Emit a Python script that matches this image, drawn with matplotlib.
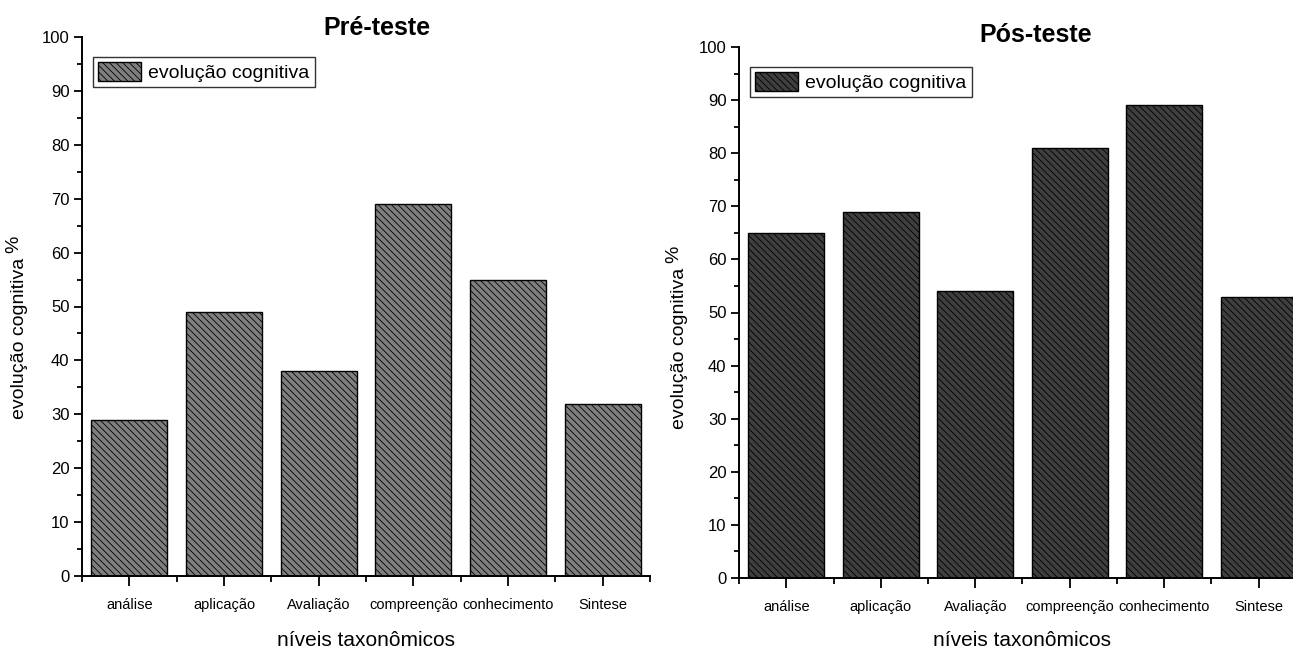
import numpy as np
import matplotlib.pyplot as plt
from matplotlib.ticker import MultipleLocator, FixedLocator

plt.rcParams['font.family'] = ['Liberation Sans', 'DejaVu Sans']
plt.rcParams['hatch.linewidth'] = 0.6

categorias = ['análise', 'aplicação', 'Avaliação', 'compreenção', 'conhecimento', 'Sintese']
pre_teste = [29, 49, 38, 69, 55, 32]
pos_teste = [65, 69, 54, 81, 89, 53]

W, H = 1293, 650
fig = plt.figure(figsize=(W / 100, H / 100), dpi=100)


def fx(px):
    return px / W


def fy(py):
    return 1 - py / H


def painel(x0, x1, y0, y1, valores, cor, titulo, titulo_xy, ylab_xy):
    ax = fig.add_axes([fx(x0), fy(y1), (x1 - x0) / W, (y1 - y0) / H])
    x = np.arange(len(categorias))
    ax.bar(x, valores, width=0.8, color=cor, edgecolor='black', linewidth=1.0,
           hatch='\\\\\\\\\\', label='evolução cognitiva')
    ax.set_xlim(-0.5, len(categorias) - 0.5)
    ax.set_ylim(0, 100)
    ax.set_xticks(x)
    ax.set_xticklabels(categorias)
    ax.xaxis.set_minor_locator(FixedLocator(np.arange(-0.5, len(categorias), 1.0)))
    ax.yaxis.set_major_locator(MultipleLocator(10))
    ax.yaxis.set_minor_locator(MultipleLocator(5))
    ax.tick_params(axis='y', which='major', direction='out', length=6, width=1.3, labelsize=12, pad=3)
    ax.tick_params(axis='y', which='minor', direction='out', length=3.5, width=1.3)
    ax.tick_params(axis='x', which='major', direction='out', length=7.5, width=1.3, labelsize=10.5, pad=8)
    ax.tick_params(axis='x', which='minor', direction='out', length=4, width=1.3)
    for lado in ['top', 'right']:
        ax.spines[lado].set_visible(False)
    for lado in ['left', 'bottom']:
        ax.spines[lado].set_linewidth(1.4)

    # legenda
    leg = ax.legend(loc='upper left', fontsize=14, frameon=True,
                    fancybox=False, edgecolor='black', handlelength=2.2, handleheight=1.15,
                    handletextpad=0.4, borderpad=0.25, borderaxespad=0.0,
                    bbox_to_anchor=(fx(x0 + 11), fy(y0 + 20)), bbox_transform=fig.transFigure)
    leg.get_frame().set_linewidth(1.0)

    fig.text(fx(titulo_xy[0]), fy(titulo_xy[1]), titulo, fontsize=18, fontweight='bold',
             ha='center', va='center')
    fig.text(fx((x0 + x1) / 2), fy(640), 'níveis taxonômicos', fontsize=15,
             ha='center', va='center')
    fig.text(fx(ylab_xy[0]), fy(ylab_xy[1]), 'evolução cognitiva', fontsize=14,
             rotation=90, ha='center', va='center')
    fig.text(fx(ylab_xy[0] - 6), fy(ylab_xy[1] - 94), '%', fontsize=14,
             rotation=90, ha='center', va='center')
    return ax


painel(82, 650, 37, 576, pre_teste, '#7f7f7f', 'Pré-teste', (377, 28), (20, 338))
painel(739, 1306, 47, 578, pos_teste, '#3f3f3f', 'Pós-teste', (1036, 35), (680, 348))

fig.savefig('out.png', dpi=100)
